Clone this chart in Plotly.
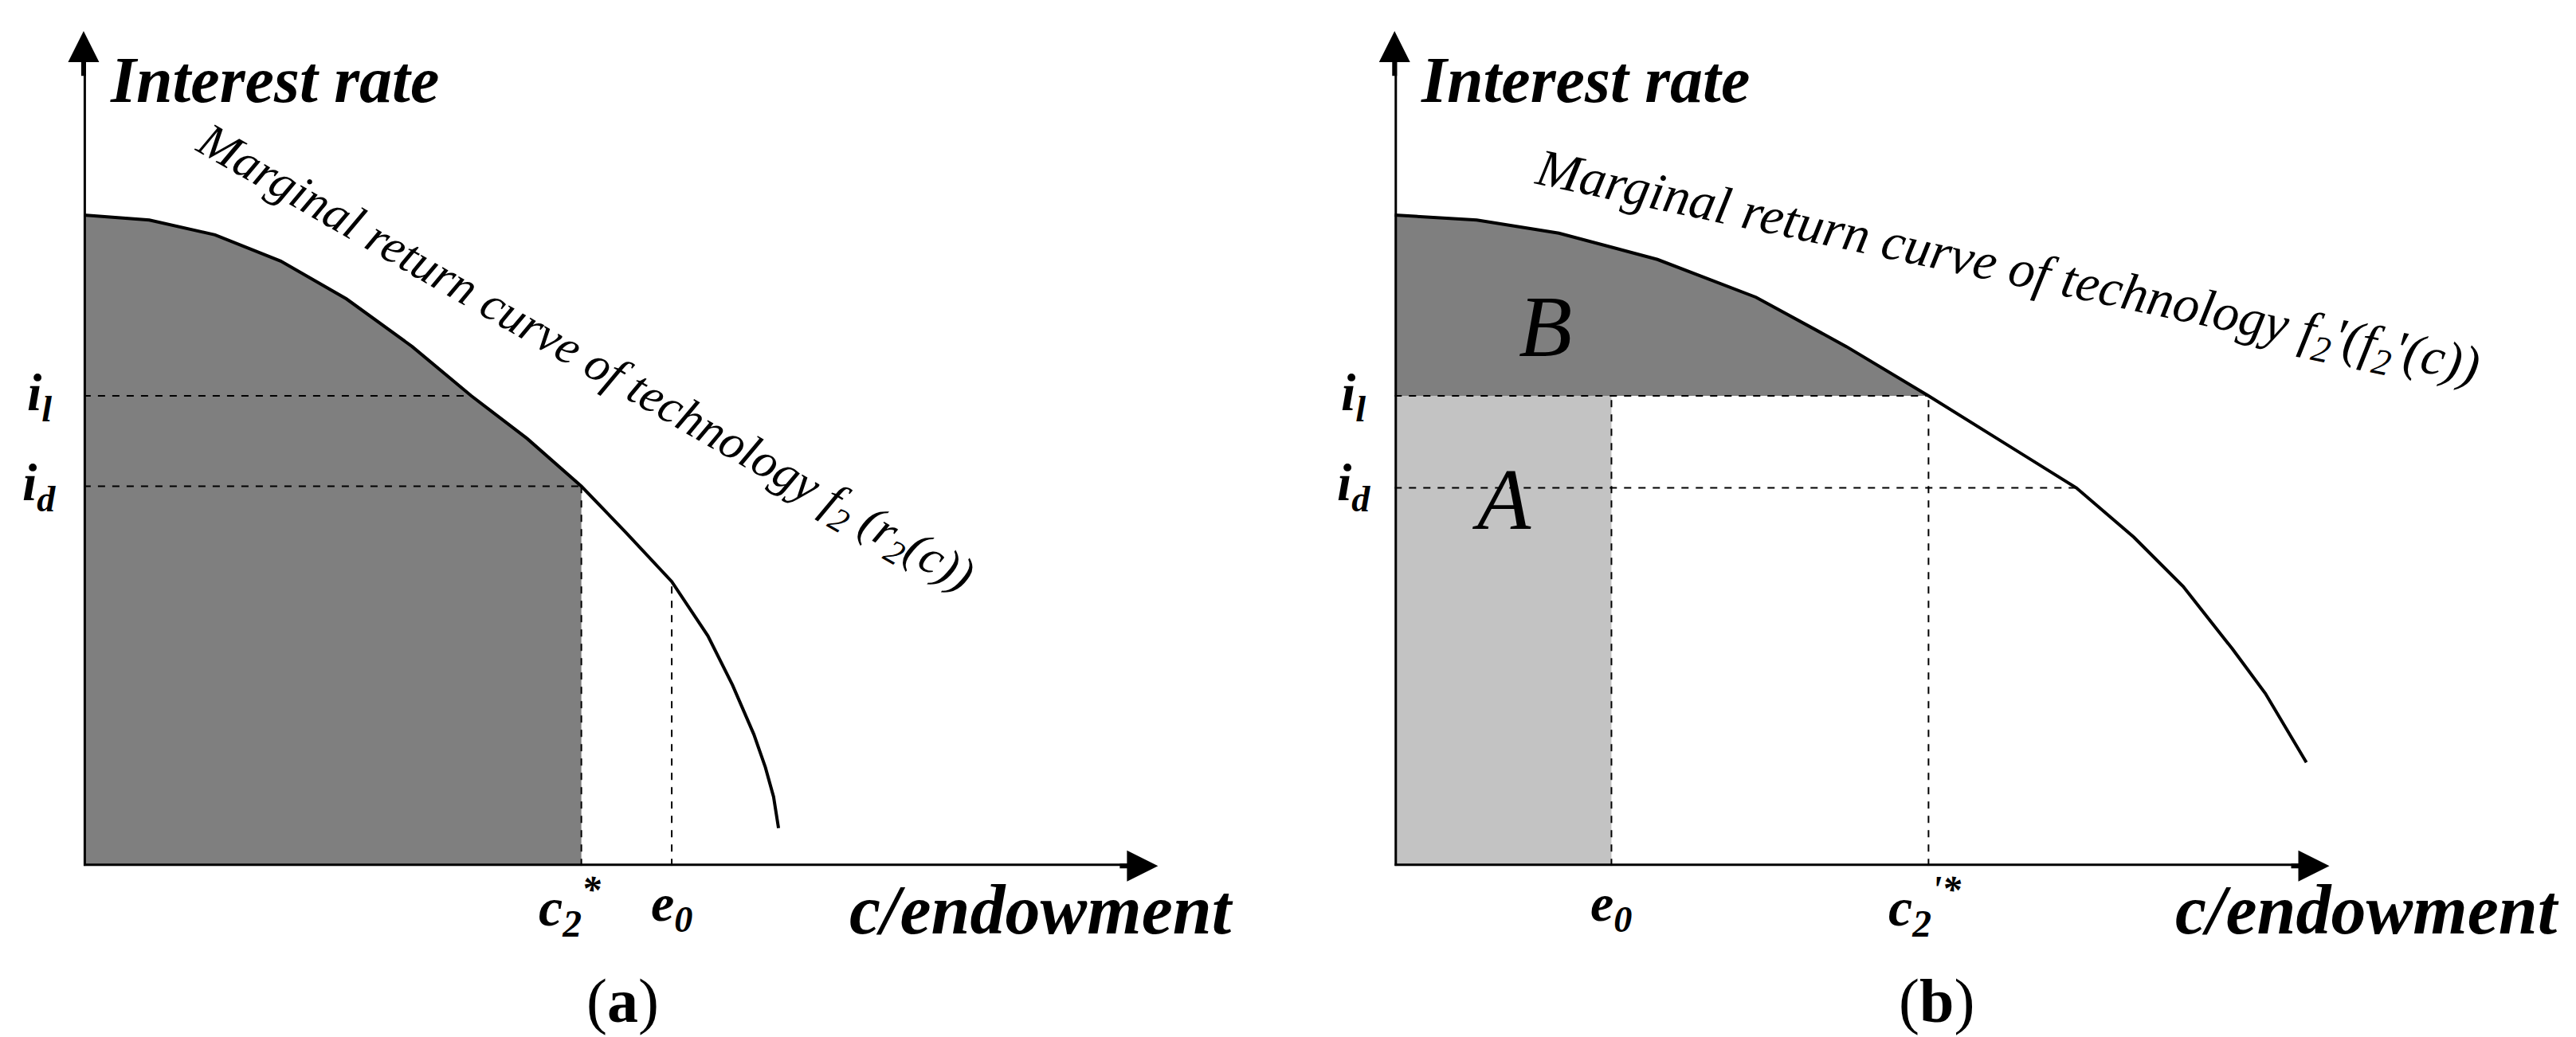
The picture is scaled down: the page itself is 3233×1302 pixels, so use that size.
import plotly.graph_objects as go

W, H = 3233, 1302
SW, SH = 1568, 631  # reference coordinate frame used for placement

# Panel (a) curve (x offset from origin, height above axis)
a_x = [0, 40, 80, 120, 160, 200, 236, 270, 303, 330, 358, 380, 395, 408, 415, 420, 423]
a_y = [396, 393, 384, 368, 345, 316, 286, 260, 231, 203, 173, 140, 110, 80, 60, 42, 23]
a_il, a_id, a_c2, a_e0 = 286, 231, 303, 358
# Panel (b) curve
b_x = [0, 50, 100, 160, 220, 275, 325, 370, 415, 450, 480, 510, 530, 555]
b_y = [396, 393, 385, 369, 346, 316, 286, 258, 230, 200, 170, 132, 105, 63]
b_il, b_id, b_c2, b_e0 = 286, 230, 325, 132

fig = go.Figure()
blk = "black"

def dom(x0, x1, y0, y1):
    return [x0 / SW, x1 / SW], [1 - y1 / SH, 1 - y0 / SH]

xa_d, ya_d = dom(47, 700, 15, 523)
xb_d, yb_d = dom(845, 1415, 15, 523)
ax_common = dict(visible=False, fixedrange=True)
fig.update_layout(
    xaxis=dict(domain=xa_d, range=[0, 653], **ax_common),
    yaxis=dict(domain=ya_d, range=[0, 508], **ax_common),
    xaxis2=dict(domain=xb_d, range=[0, 570], anchor="y2", **ax_common),
    yaxis2=dict(domain=yb_d, range=[0, 508], anchor="x2", **ax_common),
)

def tr(xs, ys, ax="", **kw):
    fig.add_trace(go.Scatter(x=xs, y=ys, mode="lines", xaxis="x" + ax, yaxis="y" + ax,
                             showlegend=False, hoverinfo="skip", **kw))

# ---- panel a
k = a_x.index(a_c2)
tr(a_x[:k + 1] + [a_c2], a_y[:k + 1] + [0], fill="tozeroy", fillcolor="#7f7f7f",
   line=dict(width=0))
tr(a_x, a_y, line=dict(color=blk, width=4))
dash = dict(color=blk, width=2, dash="dash")
tr([0, 236], [a_il, a_il], line=dash)
tr([0, a_c2], [a_id, a_id], line=dash)
tr([a_c2, a_c2], [0, a_id], line=dash)
tr([a_e0, a_e0], [0, 173], line=dash)

# ---- panel b
tr([0, b_e0, b_e0, 0], [0, 0, b_il, b_il], "2", fill="toself", fillcolor="#c3c3c3", line=dict(width=0))
k = b_x.index(b_c2)
tr([0, b_c2], [b_il, b_il], "2", line=dict(width=0))
tr(b_x[:k + 1], b_y[:k + 1], "2", fill="tonexty", fillcolor="#7f7f7f", line=dict(width=0))
tr(b_x, b_y, "2", line=dict(color=blk, width=4))
tr([0, b_c2], [b_il, b_il], "2", line=dash)
tr([0, 415], [b_id, b_id], "2", line=dash)
tr([b_c2, b_c2], [0, b_il], "2", line=dash)
tr([b_e0, b_e0], [0, b_il], "2", line=dash)

# axes with arrows
for ax, xm in [("", 640), ("2", 555)]:
    tr([0, 0], [0, 495], ax, line=dict(color=blk, width=6))
    tr([0, xm], [0, 0], ax, line=dict(color=blk, width=6))
    xr = "x" + ax
    yr = "y" + ax
    fig.add_annotation(x=0, y=508, ax=0, ay=480, xref=xr, yref=yr, axref=xr, ayref=yr,
                       showarrow=True, arrowhead=2, arrowsize=1.3, arrowwidth=6, arrowcolor=blk, text="")
    fig.add_annotation(x=xm + 14, y=0, ax=xm - 10, ay=0, xref=xr, yref=yr, axref=xr, ayref=yr,
                       showarrow=True, arrowhead=2, arrowsize=1.3, arrowwidth=6, arrowcolor=blk, text="")

F = "Liberation Serif"
def txt(x, y, s, size, angle=0, xanchor="center"):
    fig.add_annotation(x=x / SW, y=1 - y / SH, xref="paper", yref="paper", text=s,
                       showarrow=False, textangle=angle, xanchor=xanchor, yanchor="middle",
                       font=dict(family=F, size=size, color=blk))

bi = lambda s: "<b><i>" + s + "</i></b>"
txt(62, 45, bi("Interest rate"), 82, xanchor="left")
txt(860, 45, bi("Interest rate"), 82, xanchor="left")
txt(748, 550, bi("c/endowment"), 88, xanchor="right")
txt(1555, 550, bi("c/endowment"), 88, xanchor="right")
txt(352, 215, "<i>Marginal return curve of technology f<sub>2</sub> (r<sub>2</sub>(c))</i>", 61, angle=30)
txt(1218, 160, "<i>Marginal return curve of technology f<sub>2</sub>'(f<sub>2</sub>'(c))</i>", 66, angle=12)
for x0 in (20, 820):
    txt(x0, 237, bi("i<sub>l</sub>"), 66)
    txt(x0, 292, bi("i<sub>d</sub>"), 66)
txt(343, 548, bi("c<sub>2</sub><sup>*</sup>"), 68)
txt(405, 548, bi("e<sub>0</sub>"), 66)
txt(977, 548, bi("e<sub>0</sub>"), 66)
txt(1168, 548, bi("c<sub>2</sub><sup>'*</sup>"), 68)
txt(937, 195, "<i>B</i>", 110)
txt(910, 300, "<i>A</i>", 110)
txt(375, 605, "(<b>a</b>)", 78)
txt(1175, 605, "(<b>b</b>)", 78)

fig.update_layout(width=W, height=H, margin=dict(l=0, r=0, t=0, b=0),
                  plot_bgcolor="white", paper_bgcolor="white")
fig.write_html("out.html")
